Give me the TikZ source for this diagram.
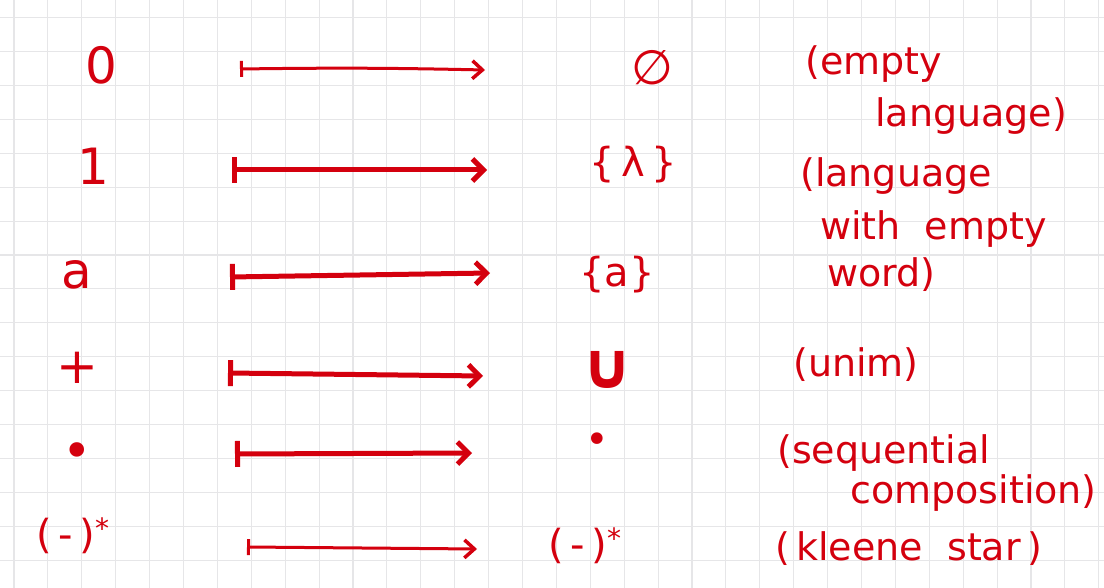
\documentclass[tikz,border=0pt]{standalone}
\usepackage{fontspec}
\setmainfont{DejaVu Sans}
\usetikzlibrary{arrows.meta}

\definecolor{ink}{RGB}{212,0,14}
\definecolor{paper}{RGB}{230,230,232}

\begin{document}
\begin{tikzpicture}[x=1pt, y=-1pt, >=Stealth,
    gridline/.style={draw=paper, line width=1.1pt},
    sym/.style={text=ink, inner sep=0pt, font=\fontsize{50}{56}\selectfont},
    lang/.style={text=ink, inner sep=0pt, font=\fontsize{40}{46}\selectfont},
    note/.style={text=ink, inner sep=0pt, anchor=base west, font=\fontsize{38}{44}\selectfont},
    maps/.style={draw=ink, line width=5pt, line cap=round,
      {Bar[width=26pt, line width=5pt]}-{Straight Barb[length=11pt, width=22pt, line width=5pt]}},
    thinmaps/.style={maps, line width=3pt,
      {Bar[width=16pt, line width=3pt]}-{Straight Barb[length=10pt, width=18pt, line width=3.5pt]}}]

  \useasboundingbox[fill=white] (0,0) rectangle (1104,588);

  % squared paper
  \foreach \i in {0,...,32}
    \draw[gridline] ({14+33.9*\i},0) -- ({14+33.9*\i},588);
  \foreach \j in {0,...,17}
    \draw[gridline] (0,{17.7+33.9*\j}) -- (1104,{17.7+33.9*\j});

  % expressions
  \node[sym] (zero) at (101,65) {0};
  \node[sym] (one) at (93,166) {1};
  \node[sym] (let) at (77,275) {a};
  \node[sym] (plus) at (77,368) {+};
  \node[sym] (dot) at (77,456) {•};
  \node[lang, anchor=base west] (star) at (36,548) {(\,-\,)\textsuperscript{*}};

  % languages
  \node[lang, font=\fontsize{48}{52}\selectfont] (empty) at (652,68) {∅};
  \node[lang] (lam) at (633,165) {\{\,λ\,\}};
  \node[lang] (sing) at (617,275) {\{a\}};
  \node[lang, font=\fontsize{64}{70}\bfseries] (cup) at (607,370) {∪};
  \node[lang] (comp) at (597,443) {•};
  \node[lang, anchor=base west] (kstar) at (548,558) {(\,-\,)\textsuperscript{*}};

  % ends of the maps-to arrows
  \coordinate (t0) at (240,69);  \coordinate (h0) at (485,70);
  \coordinate (t1) at (232,170); \coordinate (h1) at (487,170);
  \coordinate (t2) at (230,277); \coordinate (h2) at (490,273);
  \coordinate (t3) at (228,373); \coordinate (h3) at (483,376);
  \coordinate (t4) at (235,454); \coordinate (h4) at (472,453);
  \coordinate (t5) at (247,547); \coordinate (h5) at (477,549);

  \draw[thinmaps] (t0) to[bend left=1] (h0);
  \draw[maps] (t1) -- (h1);
  \draw[maps] (t2) -- (h2);
  \draw[maps] (t3) -- (h3);
  \draw[maps] (t4) -- (h4);
  \draw[thinmaps] (t5) -- (h5);

  % remarks
  \node[note] (n0a) at (805,75) {(empty};
  \node[note] (n0b) at (875,127) {language)};
  \node[note] (n1a) at (800,187) {(language};
  \node[note] (n1b) at (820,240) {with\ \ empty};
  \node[note] (n1c) at (827,287) {word)};
  \node[note] (n3) at (793,377) {(unim)};
  \node[note] (n4a) at (777,463) {(sequential};
  \node[note] (n4b) at (850,503) {composition)};
  \node[note] (n5) at (775,560) {(\,kleene\ \ star\,)};

\end{tikzpicture}
\end{document}
